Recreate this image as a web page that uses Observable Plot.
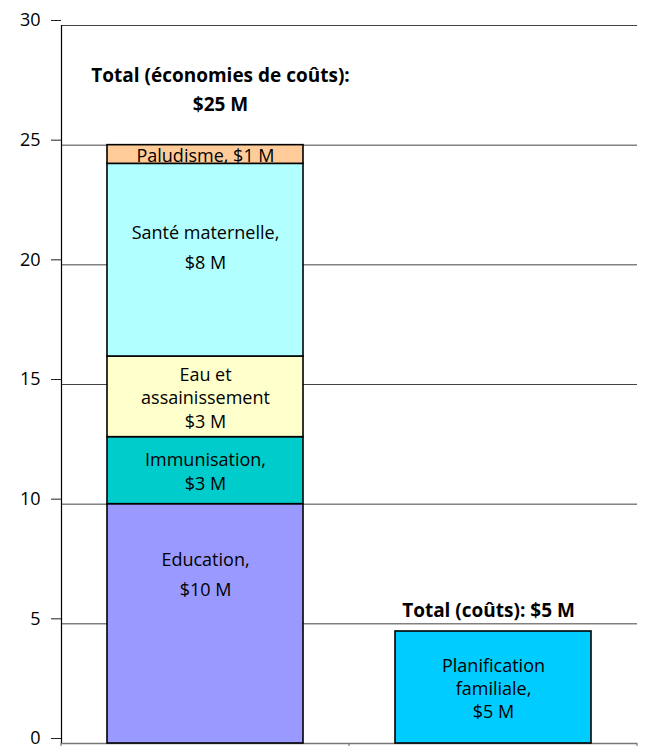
<!DOCTYPE html>
<html>
<head>
<meta charset="utf-8">
<script src="https://cdn.jsdelivr.net/npm/d3@7"></script>
<script src="https://cdn.jsdelivr.net/npm/@observablehq/plot@0.6"></script>
<style>
  html, body { margin: 0; padding: 0; background: #fff; }
  #chart svg { display: block; }
</style>
</head>
<body>
<div id="chart"></div>
<script>
// ---- data ----
const groups = ["Économies de coûts", "Coûts"];
const items = ["Education", "Immunisation", "Eau et assainissement", "Santé maternelle", "Paludisme", "Planification familiale"];
const itemGroup = [0, 0, 0, 0, 0, 1];
const values = [10, 2.8, 3.37, 8.05, 0.78, 4.68];
const labels = [
  "Education,\n$10 M",
  "Immunisation,\n$3 M",
  "Eau et\nassainissement\n$3 M",
  "Santé maternelle,\n$8 M",
  "Paludisme, $1 M",
  "Planification\nfamiliale,\n$5 M"
];
const colors = ["#9999FF", "#00CCCC", "#FFFFCC", "#B2FFFF", "#FFCC99", "#00CCFF"];
const totalLabels = ["Total (économies de coûts):\n$25 M", "Total (coûts): $5 M"];
const yTicks = [0, 5, 10, 15, 20, 25, 30];

// ---- build table ----
const rows = items.map((item, i) => ({
  group: groups[itemGroup[i]], item, value: values[i], label: labels[i], color: colors[i]
}));
const acc = {};
rows.forEach(r => {
  const base = acc[r.group] || 0;
  r.y1 = base; r.y2 = base + r.value; r.mid = (r.y1 + r.y2) / 2;
  acc[r.group] = r.y2;
});
const totals = groups.map((g, i) => ({group: g, total: acc[g], label: totalLabels[i]}));

const font = "'Open Sans', Lato, sans-serif";
const labelFs = 18;
const totalFs = 19;

const chart = Plot.plot({
  width: 646,
  height: 746,
  marginLeft: 61,
  marginRight: 9,
  marginTop: 25,
  marginBottom: 3,
  style: {fontFamily: font, fontSize: "16px", background: "#fff", overflow: "visible"},
  x: {domain: groups, padding: 0, axis: null},
  y: {domain: [0, 30], ticks: yTicks, label: null},
  color: {type: "identity"},
  marks: [
    Plot.gridY(yTicks, {stroke: "#222", strokeOpacity: 0.85, strokeWidth: 1}),
    Plot.axisY(yTicks, {tickSize: 10, tickPadding: 11, fontSize: 18, dy: -5, tickFormat: d => d, stroke: "#222", label: null}),
    Plot.frame({anchor: "left", stroke: "#000", strokeWidth: 1.2}),
    Plot.ruleY([0], {stroke: "#777", strokeWidth: 1.5}),
    Plot.rectY(rows, {
      x: "group", y1: "y1", y2: "y2", fill: "color",
      stroke: "#000", strokeWidth: 1.6, insetLeft: 46, insetRight: 46
    }),
    // Education label sits above its segment's middle
    Plot.text(rows.filter(r => r.item === "Education"), {
      x: "group", y: "mid", text: "label", lineHeight: 1.65, dy: -52, fill: "#000", fontSize: labelFs
    }),
    Plot.text(rows.filter(r => r.item === "Santé maternelle"), {
      x: "group", y: "mid", text: "label", lineHeight: 1.65, dy: -16, fill: "#000", fontSize: labelFs
    }),
    Plot.text(rows.filter(r => r.item !== "Education" && r.item !== "Santé maternelle"), {
      x: "group", y: "mid", text: "label", lineHeight: 1.3, fill: "#000", fontSize: labelFs
    }),
    Plot.text(totals.slice(0, 1), {
      x: "group", y: "total", text: "label", fontWeight: "bold", fontSize: totalFs,
      lineHeight: 1.52, dy: -58, dx: 15, fill: "#000"
    }),
    Plot.text(totals.slice(1), {
      x: "group", y: "total", text: "label", fontWeight: "bold", fontSize: totalFs,
      dy: -21, dx: -5, fill: "#000"
    })
  ]
});

document.getElementById("chart").append(chart);

// bottom category-boundary tick marks, positioned with the library's x scale
const sx = chart.scale("x");
const sy = chart.scale("y");
const y0 = sy.apply(0);
const bounds = [];
groups.forEach((g, i) => {
  const left = sx.apply(g);
  if (i === 0) bounds.push(left);
  bounds.push(left + sx.bandwidth);
});
d3.select(chart).append("g").selectAll("line").data(bounds).join("line")
  .attr("x1", d => d).attr("x2", d => d)
  .attr("y1", y0).attr("y2", y0 + 5)
  .attr("stroke", "#777").attr("stroke-width", 1.2);
</script>
</body>
</html>
